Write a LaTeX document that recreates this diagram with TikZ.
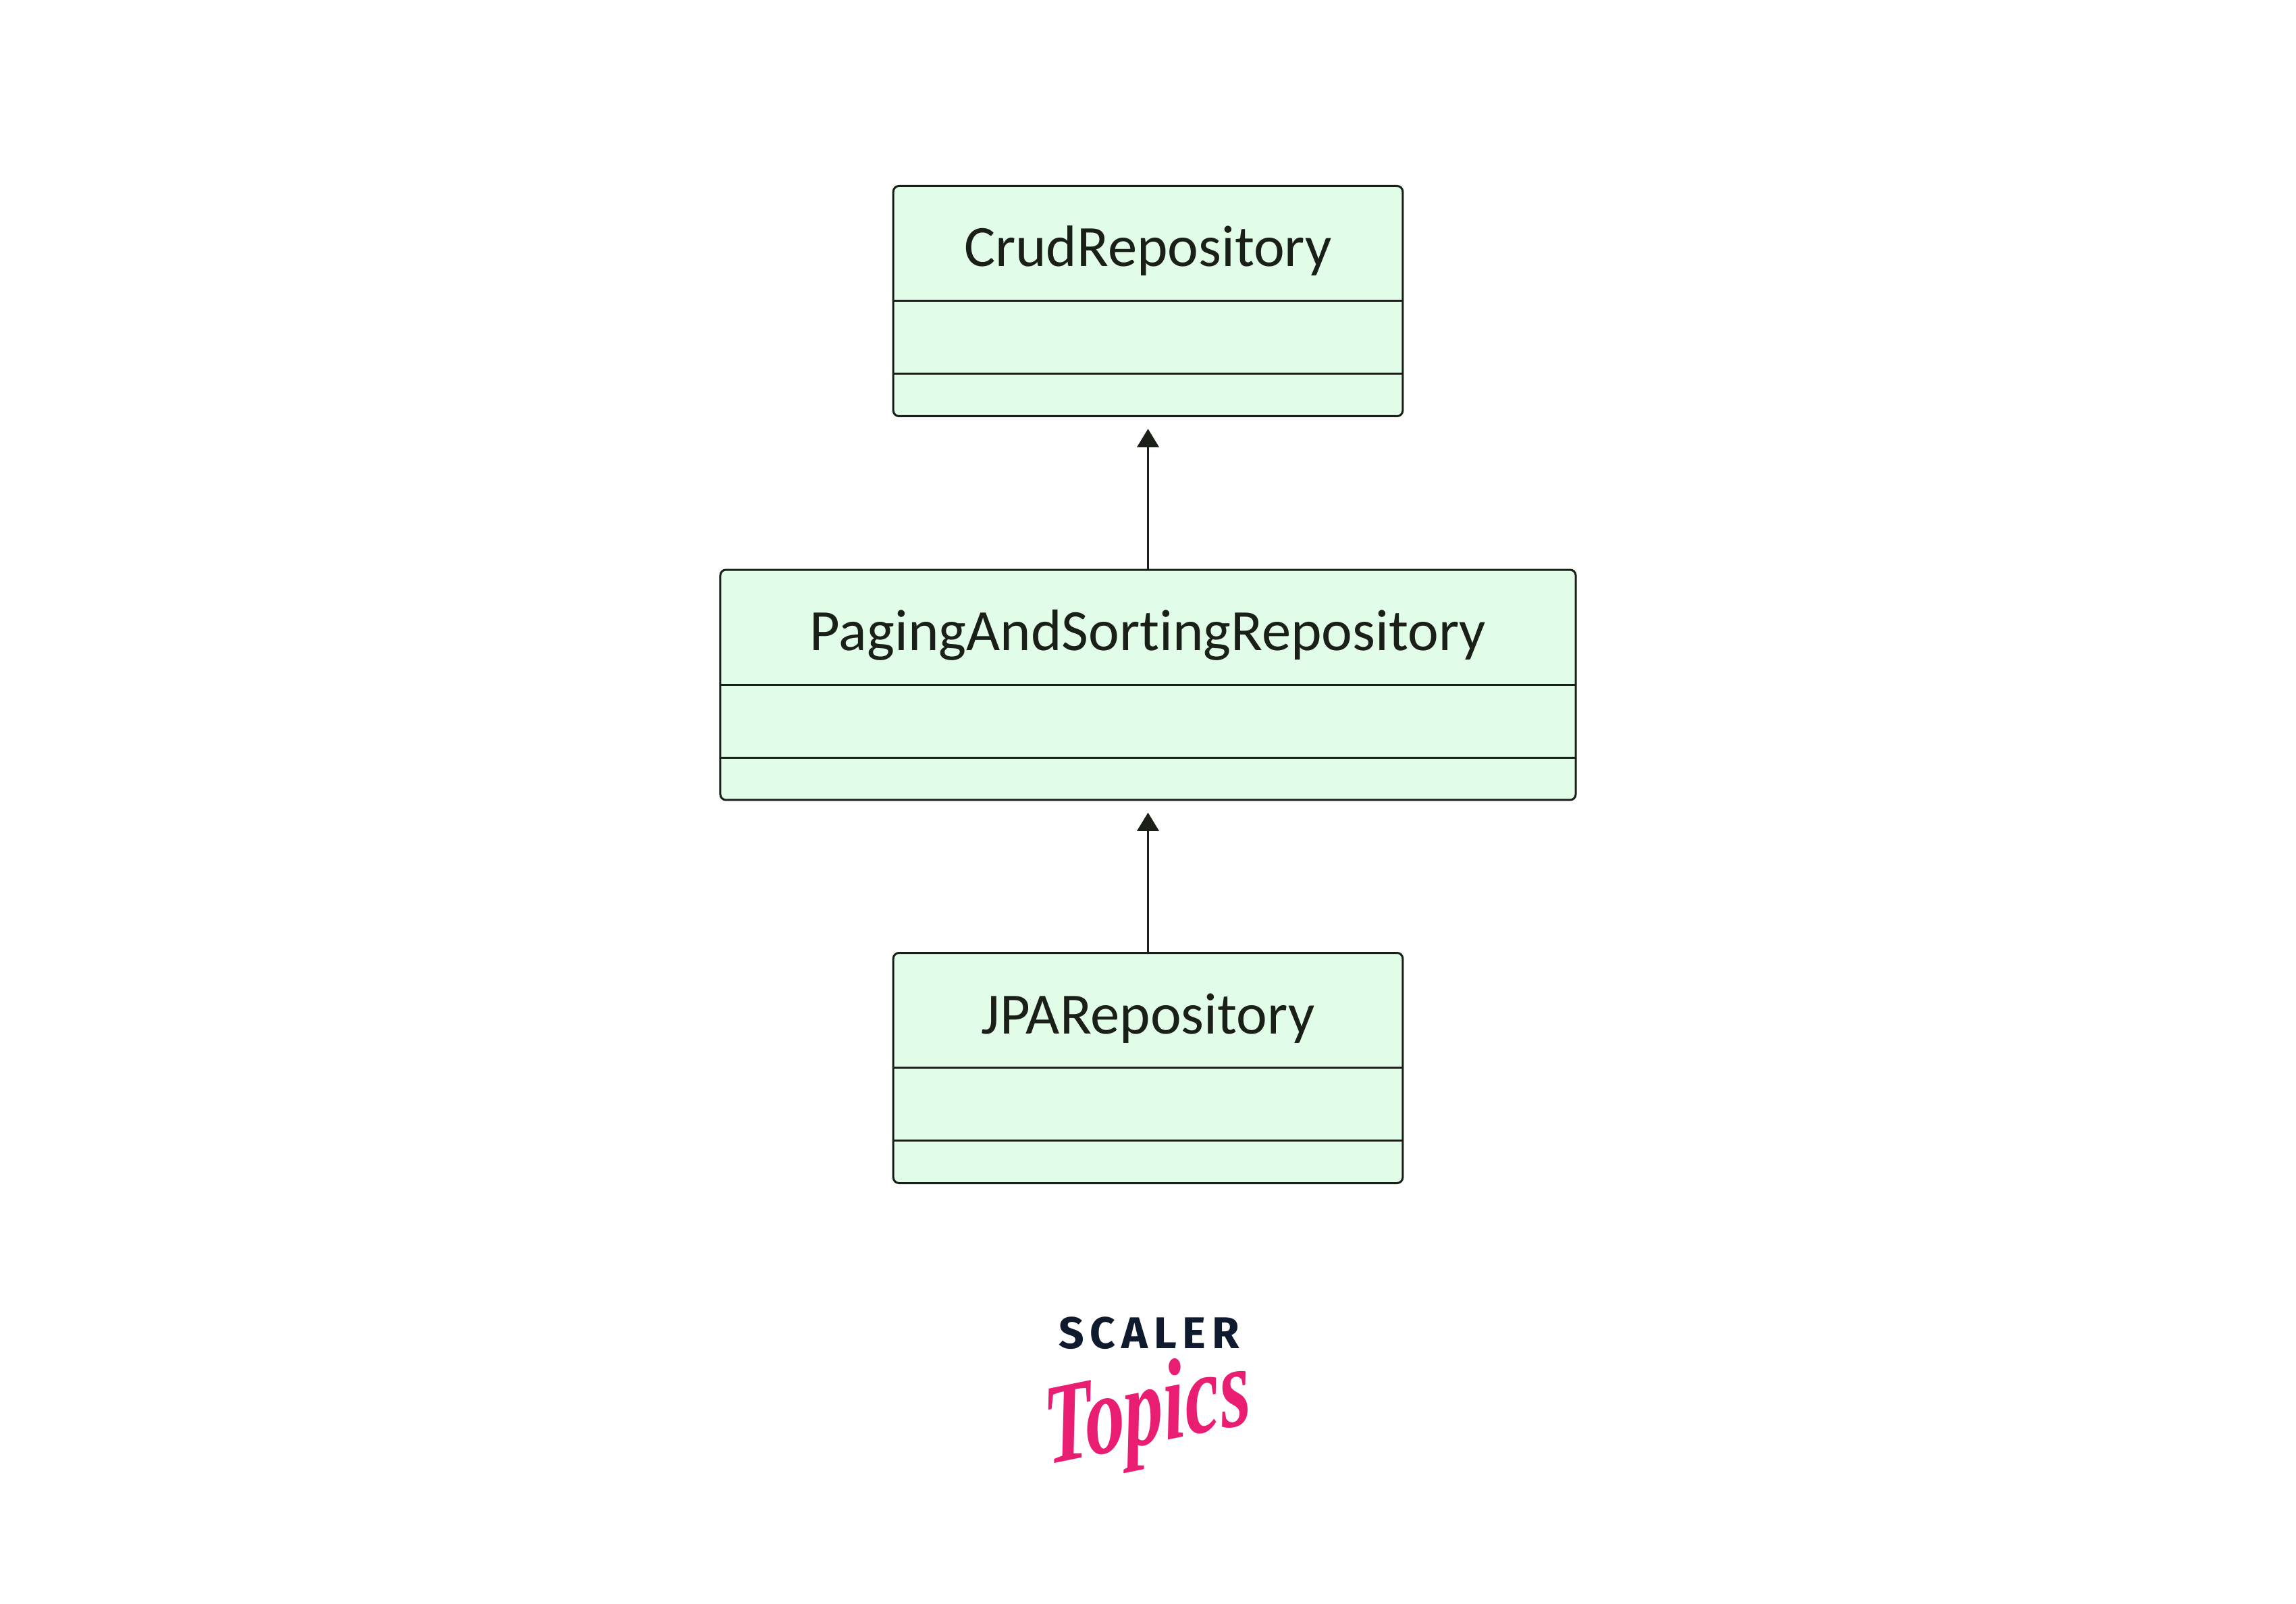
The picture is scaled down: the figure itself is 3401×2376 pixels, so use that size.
\documentclass[tikz,border=0pt]{standalone}
\usepackage{fontspec}
\setmainfont{Carlito}[Ligatures=CommonOff]
\newfontfamily\logofont{Fira Sans}
\newfontfamily\scriptlogo{Liberation Serif}
\usetikzlibrary{arrows.meta,calc}
\definecolor{boxfill}{HTML}{E1FCE7}
\definecolor{ink}{HTML}{1A2018}
\definecolor{navy}{HTML}{0F1A2E}
\definecolor{rosepink}{HTML}{E91E72}
\tikzset{
  x=0.24pt,y=-0.24pt,
  classbox/.style={draw=ink,fill=boxfill,line width=0.72pt,rounded corners=2pt,minimum height=81.84pt,inner sep=0pt,outer sep=0pt},
  narrowbox/.style={classbox,minimum width=181.1pt},
  widebox/.style={classbox,minimum width=304.1pt},
  classname/.style={anchor=base,text=ink,font=\fontsize{20.8pt}{24pt}\selectfont,inner sep=0pt},
  divider/.style={draw=ink,line width=0.72pt},
  inherit/.style={draw=ink,line width=0.72pt,-{Triangle[length=6.5pt,width=7.7pt]},shorten >=4.5pt},
}
\begin{document}
\begin{tikzpicture}
\useasboundingbox[fill=white] (0,0) rectangle (3401,2376);
\node[narrowbox] (crud) at (1700.5,446) {};
\node[widebox] (paging) at (1700.5,1014.5) {};
\node[narrowbox] (jpa) at (1700.5,1582) {};
\node[classname] (crudname) at (1700.5,395) {CrudRepository};
\node[classname] (pagingname) at (1700.5,964) {PagingAndSortingRepository};
\node[classname] (jpaname) at (1700.5,1531) {JPARepository};
\foreach \b in {crud,paging,jpa}{
  \draw[divider] ($(\b.north west)+(0,170)$) -- ($(\b.north east)+(0,170)$);
  \draw[divider] ($(\b.north west)+(0,278)$) -- ($(\b.north east)+(0,278)$);
}
\draw[inherit] (paging.north) -- (crud.south);
\draw[inherit] (jpa.north) -- (paging.south);
\node[anchor=base,text=navy,inner sep=0pt,font=\logofont\bfseries\fontsize{15.8pt}{18pt}\selectfont] (scaler) at (1702,1997) {\addfontfeature{LetterSpace=13.5}SCALER};
\node[anchor=center,text=rosepink,inner sep=0pt,yscale=1.45,rotate=8,font=\scriptlogo\itshape\bfseries\fontsize{28pt}{30pt}\selectfont] (topics) at (1700,2098) {Topics};
\end{tikzpicture}
\end{document}
